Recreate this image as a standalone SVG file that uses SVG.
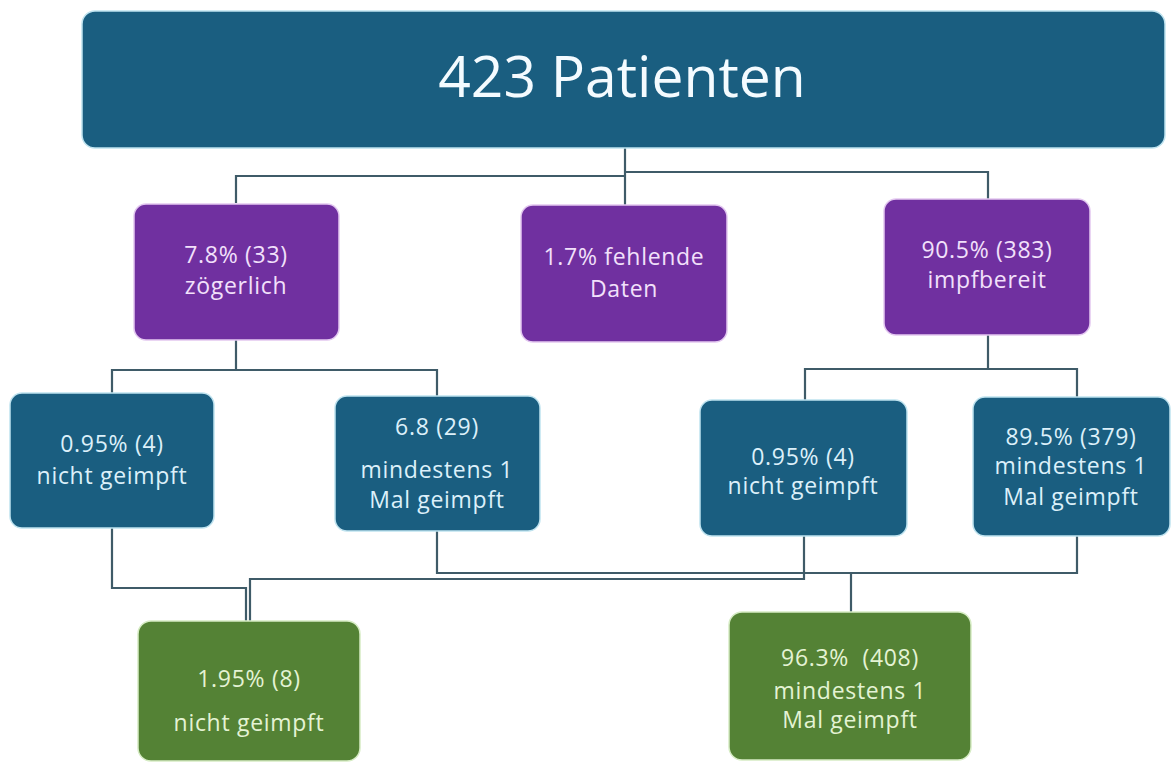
<svg xmlns="http://www.w3.org/2000/svg" width="1172" height="776" viewBox="0 0 1172 776">
<style>
.blue{fill:#1a5e80;stroke:#bfe3ef;stroke-width:1.5}
.purple{fill:#7030a0;stroke:#e3c8f0;stroke-width:1.5}
.green{fill:#548235;stroke:#d6ecc4;stroke-width:1.5}
text{font-family:"Open Sans","Noto Sans","Liberation Sans",sans-serif;text-anchor:middle}
.t,.tg,.tp{font-size:23px;letter-spacing:0.7px}
.t{fill:#dcf0fa}
.tg{fill:#e4f3d4}
.tp{fill:#f2e0fb}
.big{font-size:57px;fill:#f4fbff}
.c{fill:none;stroke:#3f5b68;stroke-width:2.2}
</style>
<rect width="1172" height="776" fill="#ffffff"/>
<g id="connectors">
<path class="c" d="M625 148V205"/>
<path class="c" d="M625 176H236V203"/>
<path class="c" d="M625 172H988V199"/>
<path class="c" d="M236 340V370H112V393"/>
<path class="c" d="M236 370H437V396"/>
<path class="c" d="M988 335V369H805V400"/>
<path class="c" d="M988 369H1077V397"/>
<path class="c" d="M112 528V588H246V621"/>
<path class="c" d="M804 536V579H250V621"/>
<path class="c" d="M437 531V573H804"/>
<path class="c" d="M1077 536V573H804"/>
<path class="c" d="M851 573V612"/>
</g>
<g id="n-top"><rect class="blue" x="82" y="11" width="1083" height="137" rx="13"/><text class="big" x="622" y="97">423 Patienten</text></g>
<g id="n-zoegerlich"><rect class="purple" x="134" y="204" width="205" height="136" rx="12"/><text class="tp" x="236" y="263">7.8% (33)</text><text class="tp" x="236" y="294">zögerlich</text></g>
<g id="n-fehlend"><rect class="purple" x="521" y="205" width="206" height="137" rx="12"/><text class="tp" x="624" y="265">1.7% fehlende</text><text class="tp" x="624" y="297">Daten</text></g>
<g id="n-impfbereit"><rect class="purple" x="884" y="199" width="206" height="136" rx="12"/><text class="tp" x="987" y="258">90.5% (383)</text><text class="tp" x="987" y="288">impfbereit</text></g>
<g id="n-z-nicht"><rect class="blue" x="10" y="393" width="204" height="135" rx="12"/><text class="t" x="112" y="452">0.95% (4)</text><text class="t" x="112" y="484">nicht geimpft</text></g>
<g id="n-z-mind"><rect class="blue" x="335" y="396" width="205" height="135" rx="12"/><text class="t" x="437" y="435">6.8 (29)</text><text class="t" x="437" y="478">mindestens 1</text><text class="t" x="437" y="508">Mal geimpft</text></g>
<g id="n-i-nicht"><rect class="blue" x="700" y="400" width="207" height="136" rx="12"/><text class="t" x="803" y="465">0.95% (4)</text><text class="t" x="803" y="494">nicht geimpft</text></g>
<g id="n-i-mind"><rect class="blue" x="973" y="397" width="197" height="139" rx="12"/><text class="t" x="1071" y="445">89.5% (379)</text><text class="t" x="1071" y="474">mindestens 1</text><text class="t" x="1071" y="505">Mal geimpft</text></g>
<g id="n-g-nicht"><rect class="green" x="138" y="621" width="222" height="140" rx="13"/><text class="tg" x="249" y="687">1.95% (8)</text><text class="tg" x="249" y="731">nicht geimpft</text></g>
<g id="n-g-mind"><rect class="green" x="729" y="612" width="242" height="148" rx="13"/><text class="tg" x="850" y="666" xml:space="preserve">96.3%  (408)</text><text class="tg" x="850" y="699">mindestens 1</text><text class="tg" x="850" y="728">Mal geimpft</text></g>
</svg>
